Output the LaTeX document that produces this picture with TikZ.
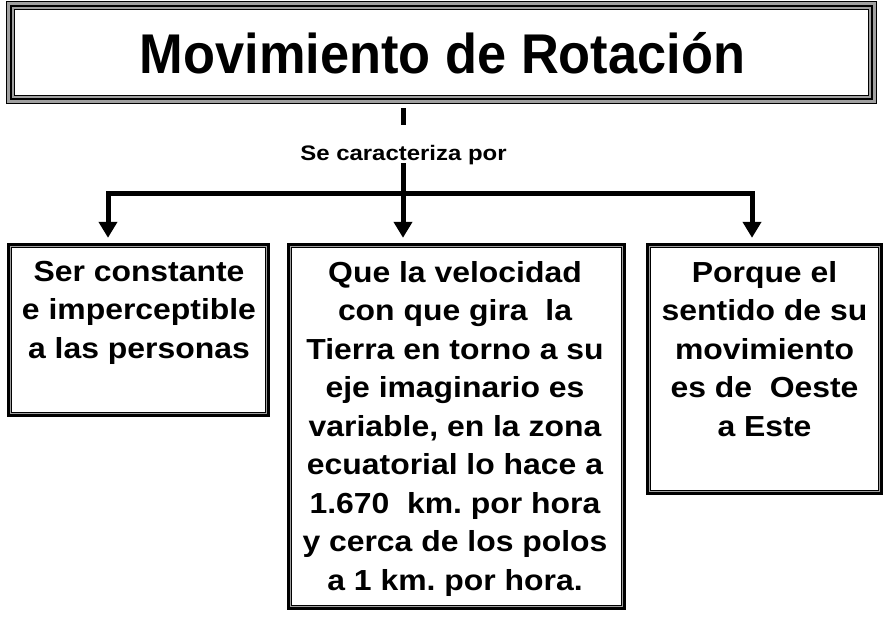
\documentclass[tikz,border=0pt]{standalone}
\usepackage{fontspec}
\setmainfont{Liberation Sans}
\newfontfamily\bodyfont[FakeStretch=1.1]{Liberation Sans}
\newfontfamily\labelfont[FakeStretch=1.14]{Liberation Sans}
\newfontfamily\titlefont[FakeStretch=0.935]{Liberation Sans}
\usetikzlibrary{arrows.meta,calc}
\frenchspacing
\definecolor{bandgray}{HTML}{A0A0A0}
\tikzset{
  boxarea/.style={draw=none,inner sep=0pt,minimum width=#1},
  bodytext/.style={inner sep=0pt,align=center,anchor=north,
    font=\bodyfont\fontsize{29}{38.5}\selectfont\bfseries\frenchspacing},
  arr/.style={line width=5pt,-{Triangle[width=18pt,length=16pt]},shorten >=5pt},
  bar/.style={line width=5pt},
}
\newcommand{\smallborder}[1]{%
  \draw[line width=5.3pt,black] ([shift={(2.65,2.65)}]#1.north west) rectangle ([shift={(-2.65,-2.65)}]#1.south east);
  \draw[line width=1pt,bandgray] ([shift={(3.8,3.8)}]#1.north west) rectangle ([shift={(-3.8,-3.8)}]#1.south east);
}
\begin{document}
\begin{tikzpicture}[x=1pt,y=-1pt]
\useasboundingbox[fill=white] (0,0) rectangle (896,616);
% title box
\node[boxarea=871pt,minimum height=103pt] (t) at (441.5,52.5) {};
\draw[line width=9pt,black] ([shift={(4.5,4.5)}]t.north west) rectangle ([shift={(-4.5,-4.5)}]t.south east);
\draw[line width=6.5pt,bandgray] ([shift={(4.5,4.5)}]t.north west) rectangle ([shift={(-4.5,-4.5)}]t.south east);
\draw[line width=2pt,black] ([shift={(5,5)}]t.north west) rectangle ([shift={(-5,-5)}]t.south east);
\node[inner sep=0pt,anchor=base,font=\titlefont\fontsize{56}{60}\selectfont\bfseries] (title) at (442.5,73) {Movimiento de Rotación};
% boxes
\node[boxarea=263pt,minimum height=174pt] (b1) at (138.5,330) {};
\node[boxarea=339pt,minimum height=367pt] (b2) at (456.5,426.5) {};
\node[boxarea=237pt,minimum height=252pt] (b3) at (764.5,369) {};
\smallborder{b1}
\smallborder{b2}
\smallborder{b3}
\node[bodytext] (x1) at (139,261) {Ser constante\\e imperceptible\\a las personas};
\node[bodytext] (x2) at (455,261) {Que la velocidad\\con que gira~ la\\Tierra en torno a su\\eje imaginario es\\variable, en la zona\\ecuatorial lo hace a\\1.670~ km. por hora\\y cerca de los polos\\a 1 km. por hora.};
\node[bodytext] (x3) at (764.5,261) {Porque el\\sentido de su\\movimiento\\es de~ Oeste\\a Este};
% label
\node[inner sep=0pt,anchor=base,font=\labelfont\fontsize{21}{24}\selectfont\bfseries] (lbl) at (403.5,160) {Se caracteriza por};
% connectors
\coordinate (d1) at (403,108);
\coordinate (d2) at (403,125);
\coordinate (s) at (403,163);
\coordinate (jm) at (403,193);
\coordinate (jl) at (108,193);
\coordinate (jr) at (752,193);
\draw[bar] (d1) -- (d2);
\draw[arr] (s) -- (s |- b2.north);
\draw[arr] (jm) -| (jl |- b1.north);
\draw[arr] (jm) -| (jr |- b3.north);
\end{tikzpicture}
\end{document}
